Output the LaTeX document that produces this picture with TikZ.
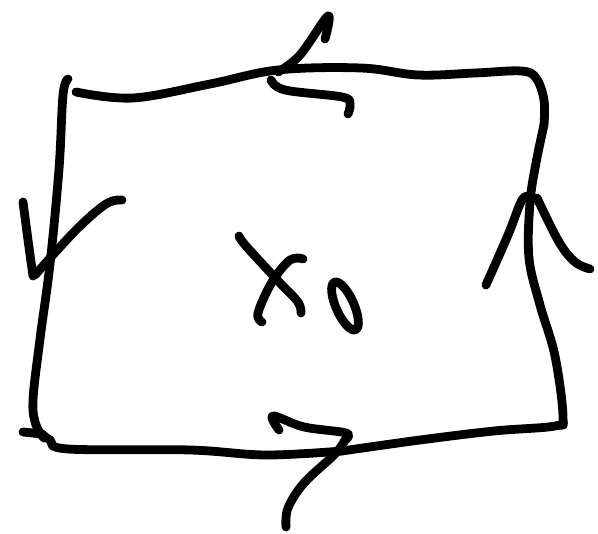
\documentclass[tikz,border=0pt]{standalone}
\begin{document}
\begin{tikzpicture}[x=1pt,y=-1pt,
  ink/.style={line width=8.8pt,line cap=round,line join=round,black}]
\useasboundingbox (0,0) rectangle (598,534);
% top side
\draw[ink] plot[smooth,tension=0.6] coordinates {(76,92) (133,98) (210,84) (278,70) (361,68) (418,75) (475,73) (521,71) (536,78) (544,100) (544,125)};
% right side
\draw[ink] plot[smooth,tension=0.6] coordinates {(544,125) (536,163) (530,203) (529,258) (540,305) (555,356) (563,417) (555,426) (494,431) (420,440) (342,451)};
% bottom side
\draw[ink] plot[smooth,tension=0.6] coordinates {(342,451) (266,455) (190,450) (68,449) (50,440) (42,434)};
\draw[ink] (23,432) -- (42,434);
% left side
\draw[ink] plot[smooth,tension=0.6] coordinates {(68,79) (63,95) (59,169) (50,264) (40,339) (33,400) (36,425) (44,438)};
% top arrowhead
\draw[ink] plot[smooth,tension=0.6] coordinates {(325,39) (328,16) (300,55) (278,72)};
\draw[ink] plot[smooth,tension=0.6] coordinates {(271,80) (285,90) (342,97) (350,104) (348,114)};
% left arrowhead
\draw[ink] plot[smooth,tension=0.6] coordinates {(23,202) (28,240) (33,276)};
\draw[ink] plot[smooth,tension=0.6] coordinates {(35,275) (76,230) (106,204) (122,200)};
% right arrowhead
\draw[ink] plot[smooth,tension=0.6] coordinates {(486,285) (508,235) (522,200) (530,197)};
\draw[ink] plot[smooth,tension=0.6] coordinates {(537,198) (559,242) (575,262) (590,269)};
% bottom arrowhead
\draw[ink] plot[smooth,tension=0.6] coordinates {(279,430) (273,416) (304,427) (346,433) (345,440)};
\draw[ink] plot[smooth,tension=0.6] coordinates {(345,440) (335,454) (304,483) (288,508) (286,527)};
% x_0
\draw[ink] plot[smooth,tension=0.6] coordinates {(239,236) (246,246) (280,283) (298,302) (301,313)};
\draw[ink] plot[smooth,tension=0.6] coordinates {(303,259) (290,260) (272,282) (258,313) (262,322)};
\draw[ink,rotate around={-66:(345,306)}] (345,306) ellipse (26pt and 9pt);
\end{tikzpicture}
\end{document}
